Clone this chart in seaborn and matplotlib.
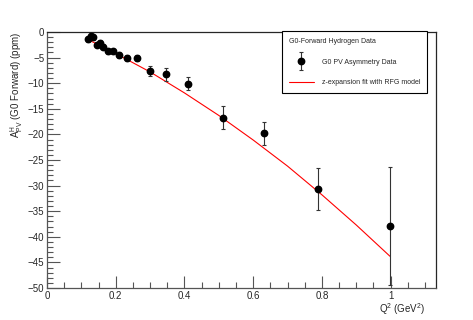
import numpy as np
import pandas as pd
import matplotlib
matplotlib.use("Agg")
import matplotlib.pyplot as plt
import seaborn as sns
from matplotlib.ticker import MultipleLocator, FuncFormatter
from matplotlib.legend_handler import HandlerErrorbar
from matplotlib.container import ErrorbarContainer

# G0 forward-angle hydrogen data
q2 = [0.120, 0.128, 0.135, 0.145, 0.154, 0.164, 0.177, 0.193, 0.210, 0.232,
      0.263, 0.300, 0.345, 0.411, 0.513, 0.632, 0.788, 0.998]
asym = [-1.4, -0.8, -1.0, -2.5, -2.1, -2.9, -3.8, -3.8, -4.5, -5.1,
        -5.1, -7.6, -8.3, -10.1, -16.7, -19.8, -30.7, -37.9]
asym_err = [0.5, 0.5, 0.5, 0.5, 0.5, 0.5, 0.5, 0.5, 0.5, 0.6,
            0.6, 0.9, 1.2, 1.3, 2.3, 2.2, 4.1, 11.6]

# z-expansion fit curve
fit_q2 = [0.120, 0.200, 0.300, 0.400, 0.500, 0.600, 0.700, 0.800, 0.900, 0.998]
fit_asym = [-1.5, -4.2, -7.8, -11.9, -16.3, -21.1, -26.2, -31.8, -37.7, -43.8]

data = pd.DataFrame({"q2": q2, "asym": asym, "err": asym_err})
fit = pd.DataFrame({"q2": fit_q2, "asym": fit_asym})

sns.set_style("ticks")
plt.rcParams["font.family"] = ["Liberation Sans", "DejaVu Sans"]
plt.rcParams["mathtext.fontset"] = "custom"
plt.rcParams["mathtext.rm"] = "Liberation Sans"
plt.rcParams["mathtext.it"] = "Liberation Sans"

fig = plt.figure(figsize=(4.73, 3.2), dpi=100)
ax = fig.add_axes([0.0994, 0.1, 0.8224, 0.8])

sns.lineplot(data=fit, x="q2", y="asym", ax=ax, color="#ff0000", lw=0.8,
             label="z-expansion fit with RFG model", zorder=2)
eb = ax.errorbar(data["q2"], data["asym"], yerr=data["err"], fmt="o", color="black",
                 ms=4.6, ecolor="#333333", elinewidth=0.8, capsize=1.5, capthick=0.8,
                 label="G0 PV Asymmetry Data", zorder=3)

ax.set_xlim(0, 1.132)
ax.set_ylim(-50, 0)
ax.xaxis.set_major_locator(MultipleLocator(0.2))
ax.xaxis.set_minor_locator(MultipleLocator(0.05))
ax.yaxis.set_major_locator(MultipleLocator(5))
ax.yaxis.set_minor_locator(MultipleLocator(1))
ax.xaxis.set_major_formatter(FuncFormatter(lambda v, p: f"{v:g}"))
ax.yaxis.set_major_formatter(FuncFormatter(lambda v, p: f"{v:g}".replace("-", "\u2212")))
ax.tick_params(which="major", direction="in", length=9, width=0.8, labelsize=7, pad=2,
               color="#555555")
ax.tick_params(which="minor", direction="in", length=4.5, width=0.8, color="#555555")
for s in ax.spines.values():
    s.set_linewidth(0.9)
ax.spines["left"].set_color("#555555")
ax.spines["bottom"].set_color("#555555")

ax.set_xlabel("Q$^{2}$ (GeV$^{2}$)", fontsize=7, ha="right", x=0.972, labelpad=0)
ax.set_ylabel("A$^{H}_{PV}$ (G0 Forward) (ppm)", fontsize=7, ha="right", y=1.0, labelpad=2)

leg = ax.legend(handles=[eb, ax.lines[0]], labels=["G0 PV Asymmetry Data",
                "z-expansion fit with RFG model"],
                title="G0-Forward Hydrogen Data", loc="upper left",
                bbox_to_anchor=(0.605, 1.005), fontsize=5, title_fontsize=5,
                frameon=True, fancybox=False, edgecolor="black", framealpha=1,
                borderpad=1.0, labelspacing=2.0, handlelength=3.5, handletextpad=1.2,
                borderaxespad=0,
                handler_map={ErrorbarContainer: HandlerErrorbar(yerr_size=1.3, numpoints=1)})
leg._legend_box.align = "left"
leg.get_frame().set_linewidth(0.8)

fig.savefig("out.png", dpi=100)
